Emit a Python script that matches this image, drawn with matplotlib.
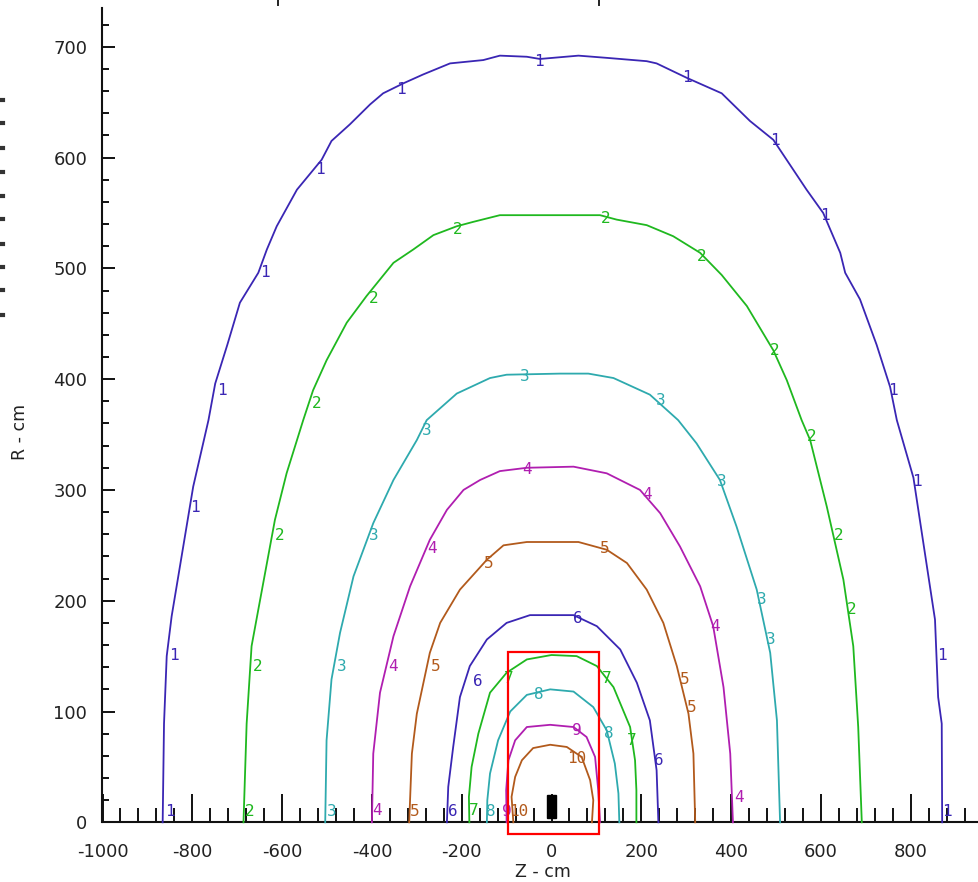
import numpy as np
import matplotlib
matplotlib.use("Agg")
import matplotlib.pyplot as plt
from matplotlib.patches import Rectangle
from matplotlib.lines import Line2D

plt.rcParams['axes.unicode_minus'] = False
plt.rcParams['font.family'] = ['DejaVu Sans']

# contour lines (Z in cm, R in cm)
z1 = [-866, -863, -857, -846, -798, -764, -749, -722, -694, -653, -634, -612, -567, -512, -490, -449, -404, -375,
      -330, -286, -226, -152, -115, -55, -26, 60, 123, 212, 234, 301, 379, 442, 494, 568, 605, 643, 654, 687, 724,
      754, 769, 806, 854, 861, 869, 870]
r1 = [0, 89, 150, 186, 303, 363, 396, 431, 469, 496, 517, 538, 571, 598, 615, 630, 648, 658,
      667, 675, 685, 688, 692, 691, 689, 692, 690, 687, 685, 672, 658, 633, 616, 571, 550, 514, 496, 472, 431,
      393, 363, 311, 183, 113, 89, 0]
z2 = [-686, -679, -668, -653, -616, -590, -553, -531, -501, -456, -412, -352, -308, -263, -211, -174, -115, 108,
      145, 212, 271, 331, 379, 435, 494, 524, 557, 576, 613, 650, 672, 683, 691]
r2 = [0, 89, 159, 192, 273, 315, 363, 390, 417, 451, 475, 505, 517, 530, 538, 542, 548, 548,
      544, 539, 529, 514, 494, 466, 426, 399, 363, 345, 285, 219, 159, 86, 0]
z3 = [-504, -501, -490, -471, -441, -397, -352, -300, -278, -211, -137, -100, 19, 82, 138, 219, 282, 323, 375,
      412, 457, 487, 502, 509]
r3 = [0, 74, 129, 171, 222, 270, 309, 345, 363, 387, 401, 404, 405, 405, 401, 386, 363, 342, 309,
      267, 210, 153, 92, 0]
z4 = [-400, -397, -382, -352, -315, -271, -233, -196, -159, -115, -55, 49, 123, 197, 242, 286, 331, 360, 383, 398, 404]
r4 = [0, 62, 117, 168, 213, 255, 282, 300, 309, 317, 320, 321, 315, 300, 279, 249, 213, 177, 122, 62, 0]
z5 = [-317, -311, -300, -271, -248, -204, -144, -107, -55, 60, 123, 168, 212, 249, 279, 305, 316, 320]
r5 = [0, 62, 98, 153, 180, 210, 237, 250, 253, 253, 246, 234, 210, 180, 141, 98, 62, 0]
z6 = [-233, -230, -219, -204, -182, -144, -100, -48, 49, 101, 153, 190, 219, 234, 238]
r6 = [0, 32, 68, 113, 141, 165, 180, 187, 187, 177, 156, 126, 92, 47, 0]
z7 = [-183, -184, -178, -163, -137, -100, -55, 0, 56, 101, 138, 175, 186, 189, 189]
r7 = [0, 23, 50, 80, 117, 135, 147, 151, 150, 141, 122, 86, 56, 29, 0]
z8 = [-144, -143, -137, -119, -92, -55, -3, 49, 93, 123, 141, 149, 151]
r8 = [0, 20, 44, 74, 100, 115, 120, 118, 104, 83, 53, 26, 0]
z9 = [-100, -101, -96, -81, -55, -3, 49, 78, 97, 104, 108]
r9 = [0, 29, 56, 74, 86, 88, 86, 77, 59, 29, 0]
z10 = [-85, -89, -81, -66, -41, -3, 34, 67, 86, 93, 90]
r10 = [0, 23, 41, 56, 67, 70, 68, 59, 38, 20, 0]

# where the level numbers sit on each line
lab_z1 = [-851, -840, -794, -735, -638, -516, -335, -29, 301, 498, 609, 761, 813, 869, 881]
lab_r1 = [10, 151, 284, 390, 496, 589, 661, 687, 672, 615, 548, 390, 308, 151, 10]
lab_z2 = [-673, -655, -605, -522, -395, -208, 121, 335, 498, 580, 639, 669]
lab_r2 = [10, 141, 259, 378, 473, 535, 545, 511, 426, 348, 259, 192]
lab_z3 = [-490, -467, -397, -277, -59, 242, 379, 468, 487]
lab_r3 = [10, 141, 259, 354, 402, 381, 308, 201, 165]
lab_z4 = [-388, -352, -267, -55, 213, 364, 418]
lab_r4 = [11, 141, 247, 318, 296, 177, 22]
lab_z5 = [-304, -259, -139, 119, 297, 312]
lab_r5 = [10, 141, 234, 247, 129, 104]
lab_z6 = [-219, -165, 58, 240]
lab_r6 = [10, 127, 184, 56]
lab_z7 = [-173, -96, 123, 179]
lab_r7 = [11, 130, 130, 74]
lab_z8 = [-135, -29, 127]
lab_r8 = [10, 115, 80]
lab_z9 = [-100, 56]
lab_r9 = [10, 83]
lab_z10 = [-74, 55]
lab_r10 = [10, 58]

levels = ['1', '2', '3', '4', '5', '6', '7', '8', '9', '10']
blue = '#3a26b4'
green = '#1fb81f'
cyan = '#2eaaae'
magenta = '#b01eb0'
brown = '#b25a1c'
colors = [blue, green, cyan, magenta, brown, blue, green, cyan, magenta, brown]

lines_z = [z1, z2, z3, z4, z5, z6, z7, z8, z9, z10]
lines_r = [r1, r2, r3, r4, r5, r6, r7, r8, r9, r10]
labs_z = [lab_z1, lab_z2, lab_z3, lab_z4, lab_z5, lab_z6, lab_z7, lab_z8, lab_z9, lab_z10]
labs_r = [lab_r1, lab_r2, lab_r3, lab_r4, lab_r5, lab_r6, lab_r7, lab_r8, lab_r9, lab_r10]

# source block and the red window
src_z = [-10, 11]
src_r = [4, 25]
box_z = [-98, 106]
box_r = [-11, 154]

fig = plt.figure(figsize=(9.79, 8.82), dpi=100)
ax = fig.add_axes([102.5 / 979, (882 - 822.3) / 882, (979 - 102.5) / 979, (822.3 - 8) / 882])

for zz, rr, lz, lr, lev, c in zip(lines_z, lines_r, labs_z, labs_r, levels, colors):
    ax.plot(zz, rr, color=c, lw=1.3, zorder=3, clip_on=False)
    for a, b in zip(lz, lr):
        ax.text(a, b, lev, color=c, fontsize=11.5, family='DejaVu Sans Mono',
                ha='center', va='center', zorder=4)

ax.add_patch(Rectangle((src_z[0], src_r[0]), src_z[1] - src_z[0], src_r[1] - src_r[0],
                       facecolor='black', edgecolor='black', zorder=5))
ax.add_patch(Rectangle((box_z[0], box_r[0]), box_z[1] - box_z[0], box_r[1] - box_r[0],
                       facecolor='none', edgecolor='#ff0000', lw=1.6, zorder=6, clip_on=False))

ax.set_xlim(-1000, 952)
ax.set_ylim(0, 735)
for s in ['top', 'right']:
    ax.spines[s].set_visible(False)
for s in ['left', 'bottom']:
    ax.spines[s].set_linewidth(1.5)
    ax.spines[s].set_color('#111111')

ax.set_xticks(np.arange(-1000, 901, 200))
ax.set_xticks(np.arange(-960, 952, 40), minor=True)
ax.set_yticks(np.arange(0, 701, 100))
ax.set_yticks(np.arange(20, 735, 20), minor=True)
ax.tick_params(axis='x', which='major', direction='in', length=20, width=1.4, color='#111111',
               pad=15, labelsize=13, labelcolor='#222222')
ax.tick_params(axis='x', which='minor', direction='in', length=10, width=1.4, color='#111111')
ax.tick_params(axis='y', which='major', direction='in', length=9.5, width=1.4, color='#111111',
               pad=11, labelsize=13, labelcolor='#222222')
ax.tick_params(axis='y', which='minor', direction='in', length=5, width=1.4, color='#111111')

fig.text(543 / 979, 1 - 872 / 882, 'Z - cm', fontsize=12.5, color='#222222', ha='center', va='center')
fig.text(20 / 979, 1 - 432 / 882, 'R - cm', fontsize=12.5, color='#222222', ha='center', va='center',
         rotation=90)

# clipped remnants at the picture edges
for xp in [278, 599]:
    fig.add_artist(Line2D([xp / 979, xp / 979], [1, 1 - 5 / 882], color='#222222', lw=1.4))
for yp in [100, 123, 148, 172, 196, 219, 244, 267, 290, 315]:
    fig.add_artist(Line2D([0, 3 / 979], [1 - yp / 882, 1 - yp / 882], color='#333333', lw=3))

fig.savefig('out.png', dpi=100)
